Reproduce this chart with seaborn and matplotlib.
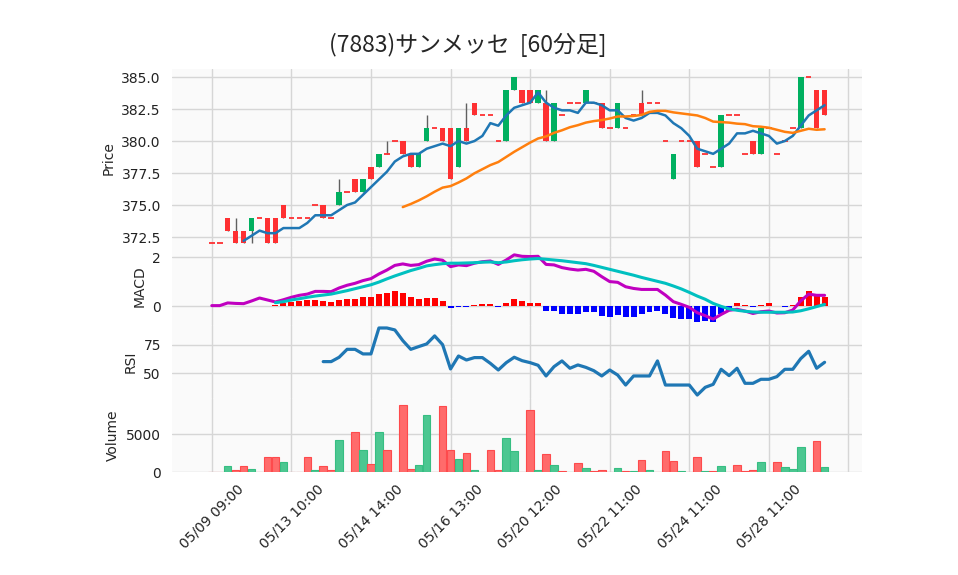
import numpy as np
import pandas as pd
import matplotlib
matplotlib.use('Agg')
import matplotlib.pyplot as plt
import seaborn as sns

############ data: 78 hourly bars (index 0..77) ############
opens = [372, 372, 374, 373, 373, 373, 374, 374, 374, 375,
         374, 374, 374, 375, 375, 374, 375, 376, 377, 376,
         378, 378, 379, 380, 380, 379, 378, 380, 381, 381,
         381, 378, 381, 383, 382, 382, 380, 380, 384, 384,
         384, 383, 383, 380, 382, 383, 383, 383, 383, 383,
         381, 381, 381, 382, 383, 383, 383, 380, 377, 380,
         380, 380, 379, 378, 378, 382, 382, 379, 380, 379,
         381, 379, 380, 381, 381, 385, 384, 384]
highs = [372, 372, 374, 374, 373, 374, 374, 374, 374, 375,
         374, 374, 374, 375, 375, 374, 377, 376, 377, 377,
         378, 379, 380, 380, 380, 379, 379, 382, 381, 381,
         381, 381, 383, 383, 382, 382, 380, 384, 385, 384,
         384, 384, 384, 383, 382, 383, 383, 384, 383, 383,
         381, 383, 381, 382, 384, 383, 383, 380, 379, 380,
         380, 380, 379, 378, 382, 382, 382, 379, 380, 381,
         381, 379, 380, 381, 385, 385, 384, 384]
lows = [372, 372, 373, 372, 372, 372, 374, 372, 372, 374,
        374, 374, 374, 375, 374, 374, 375, 376, 376, 376,
        377, 378, 379, 380, 379, 378, 378, 380, 381, 380,
        377, 378, 380, 382, 382, 382, 380, 380, 384, 383,
        383, 383, 380, 380, 382, 383, 383, 383, 383, 381,
        381, 381, 381, 382, 382, 383, 383, 380, 377, 380,
        380, 378, 379, 378, 378, 382, 382, 379, 379, 379,
        381, 379, 380, 381, 381, 385, 381, 382]
closes = [372, 372, 373, 372, 372, 374, 374, 372, 372, 374,
          374, 374, 374, 375, 374, 374, 376, 376, 376, 377,
          377, 379, 379, 380, 379, 378, 379, 381, 381, 380,
          377, 381, 380, 382, 382, 382, 380, 384, 385, 383,
          383, 384, 380, 383, 382, 383, 383, 384, 383, 381,
          381, 383, 381, 382, 382, 383, 383, 380, 379, 380,
          380, 378, 379, 378, 382, 382, 382, 379, 379, 381,
          381, 379, 380, 381, 385, 385, 381, 382]
volumes = [0, 0, 760, 300, 850, 350, 0, 2050, 2050, 1300,
           0, 0, 2050, 200, 760, 200, 4250, 0, 5300, 2900,
           1000, 5300, 2900, 0, 8900, 350, 900, 7600, 0, 8800,
           2900, 1700, 2500, 200, 0, 2900, 200, 4500, 2750, 0,
           8250, 200, 2450, 900, 100, 0, 1250, 500, 100, 200,
           0, 500, 100, 100, 1550, 200, 0, 2750, 1450, 100,
           0, 1950, 100, 100, 750, 0, 900, 100, 200, 1300,
           0, 1300, 600, 350, 3300, 0, 4100, 600]

# moving averages (5 and 25 bars) as drawn on the chart
ma5 = [np.nan] * 4 + [
    372.2, 372.6, 373.0, 372.8, 372.8, 373.2, 373.2, 373.2, 373.6, 374.2,
    374.2, 374.2, 374.6, 375.0, 375.2, 375.8, 376.4, 377.0, 377.6, 378.4,
    378.8, 379.0, 379.0, 379.4, 379.6, 379.8, 379.6, 380.0, 379.8, 380.0,
    380.4, 381.4, 381.2, 382.0, 382.6, 382.8, 383.0, 383.8, 383.0, 382.6,
    382.4, 382.4, 382.2, 383.0, 383.0, 382.8, 382.4, 382.4, 381.8, 381.6,
    381.8, 382.2, 382.2, 382.0, 381.4, 381.0, 380.4, 379.4, 379.2, 379.0,
    379.4, 379.8, 380.6, 380.6, 380.8, 380.6, 380.4, 379.8, 380.0, 380.4,
    381.2, 382.0, 382.4, 382.8]
ma25 = [np.nan] * 24 + [
    374.84, 375.08, 375.36, 375.68, 376.04, 376.36, 376.48, 376.76, 377.08, 377.48,
    377.80, 378.12, 378.36, 378.76, 379.16, 379.52, 379.88, 380.20, 380.36, 380.64,
    380.84, 381.08, 381.24, 381.44, 381.56, 381.64, 381.76, 381.92, 381.92, 381.96,
    382.04, 382.28, 382.36, 382.36, 382.24, 382.16, 382.08, 382.00, 381.80, 381.52,
    381.48, 381.44, 381.36, 381.32, 381.16, 381.12, 381.04, 380.88, 380.72, 380.64,
    380.80, 380.96, 380.88, 380.92]

macd = [0.03, 0.03, 0.14, 0.12, 0.11, 0.22, 0.34, 0.26, 0.18, 0.27,
        0.37, 0.45, 0.50, 0.61, 0.61, 0.60, 0.75, 0.86, 0.94, 1.05,
        1.13, 1.32, 1.48, 1.67, 1.73, 1.67, 1.70, 1.84, 1.93, 1.88,
        1.62, 1.69, 1.66, 1.76, 1.82, 1.85, 1.71, 1.89, 2.10, 2.04,
        2.03, 2.04, 1.71, 1.69, 1.58, 1.52, 1.48, 1.51, 1.43, 1.21,
        1.01, 0.98, 0.80, 0.73, 0.69, 0.69, 0.69, 0.46, 0.19, 0.08,
        -0.04, -0.26, -0.38, -0.52, -0.33, -0.16, -0.12, -0.19, -0.29, -0.22,
        -0.19, -0.27, -0.26, -0.15, 0.22, 0.50, 0.45, 0.45]
signal = [np.nan] * 8 + [
    0.15, 0.19, 0.26, 0.31, 0.37, 0.42, 0.46, 0.50, 0.57, 0.64,
    0.72, 0.80, 0.88, 0.99, 1.12, 1.24, 1.35, 1.46, 1.55, 1.65,
    1.70, 1.74, 1.76, 1.76, 1.77, 1.78, 1.80, 1.81, 1.78, 1.81,
    1.86, 1.90, 1.93, 1.95, 1.92, 1.89, 1.86, 1.82, 1.78, 1.74,
    1.67, 1.59, 1.51, 1.43, 1.35, 1.27, 1.18, 1.10, 1.02, 0.94,
    0.83, 0.71, 0.57, 0.42, 0.29, 0.12, 0.00, -0.10, -0.16, -0.20,
    -0.23, -0.24, -0.24, -0.24, -0.24, -0.23, -0.18, -0.10, -0.01, 0.08]
hist = [np.nan] * 8 + [
    0.05, 0.15, 0.19, 0.23, 0.26, 0.27, 0.22, 0.18, 0.26, 0.30,
    0.30, 0.38, 0.38, 0.50, 0.56, 0.63, 0.54, 0.38, 0.30, 0.34,
    0.34, 0.22, -0.08, -0.03, -0.04, 0.04, 0.10, 0.10, -0.03, 0.12,
    0.30, 0.22, 0.15, 0.15, -0.19, -0.19, -0.30, -0.30, -0.30, -0.22,
    -0.24, -0.39, -0.44, -0.34, -0.44, -0.44, -0.30, -0.23, -0.18, -0.30,
    -0.46, -0.52, -0.52, -0.63, -0.59, -0.63, -0.30, -0.15, 0.14, 0.04,
    -0.03, 0.04, 0.14, 0.01, -0.03, 0.04, 0.39, 0.63, 0.45, 0.38]
rsi = [np.nan] * 14 + [
    60.2, 60.2, 64.0, 70.9, 70.9, 66.9, 66.9, 89.5, 89.5, 87.8,
    78.5, 70.9, 73.3, 75.6, 82.6, 75.0, 53.8, 65.1, 61.6, 63.7,
    63.7, 58.7, 52.9, 59.3, 64.0, 61.0, 59.3, 57.0, 47.7, 55.8,
    60.8, 54.4, 57.3, 55.2, 52.3, 47.7, 52.9, 48.5, 39.8, 47.7,
    47.7, 47.7, 60.8, 39.8, 39.8, 39.8, 39.8, 31.1, 37.8, 40.4,
    53.5, 48.0, 54.4, 41.3, 41.3, 44.8, 44.8, 47.1, 53.5, 53.5,
    62.8, 69.2, 54.4, 59.6]

tick_pos = [0, 10, 20, 30, 40, 50, 60, 70, 80]
tick_labels = ['05/09 09:00', '05/13 10:00', '05/14 14:00', '05/16 13:00',
               '05/20 12:00', '05/22 11:00', '05/24 11:00', '05/28 11:00', '']
title = '(7883)サンメッセ  [60分足]'

df = pd.DataFrame({'open': opens, 'high': highs, 'low': lows, 'close': closes,
                   'volume': volumes, 'ma5': ma5, 'ma25': ma25, 'macd': macd,
                   'signal': signal, 'hist': hist, 'rsi': rsi})
df['idx'] = np.arange(len(df))

############ style ############
sns.set_theme(style='whitegrid')
plt.rcParams['font.family'] = ['DejaVu Sans']

UP, DOWN = '#00b060', '#fe3032'
BG, GRID = '#fafafa', '#d6d6d6'

fig = plt.figure(figsize=(9.58, 5.75), dpi=100)
L, W = 172 / 958, 690 / 958


def panel(top, bottom):
    ax = fig.add_axes([L, 1 - bottom / 575, W, (bottom - top) / 575])
    ax.set_facecolor(BG)
    ax.grid(True, color=GRID, lw=1)
    ax.set_axisbelow(True)
    for s in ax.spines.values():
        s.set_visible(False)
    ax.set_xlim(-5.0, 81.7)
    ax.set_xticks(tick_pos)
    ax.tick_params(axis='y', length=0, pad=8, labelsize=10, colors='#222222')
    ax.tick_params(axis='x', length=0, labelbottom=False)
    return ax


ax_p = panel(69, 247)
ax_m = panel(247, 325)
ax_r = panel(325, 398)
ax_v = panel(398, 472)

####### candles
up = df['close'] > df['open']
flat = df['close'] == df['open']
ax_p.vlines(df['idx'], df['low'], df['high'], color='#606060', lw=1, zorder=2)
body = df[~flat]
ax_p.bar(body['idx'], (body['close'] - body['open']), bottom=body['open'], width=0.7,
         color=np.where(up[~flat], UP, DOWN), lw=0, zorder=3)
doji = df[flat]
ax_p.hlines(doji['close'], doji['idx'] - 0.35, doji['idx'] + 0.35, color=DOWN, lw=1.3, zorder=3)

sns.lineplot(data=df, x='idx', y='ma5', ax=ax_p, color='#1f77b4', lw=1.8, zorder=4)
sns.lineplot(data=df, x='idx', y='ma25', ax=ax_p, color='#ff7f0e', lw=1.8, zorder=4)
ax_p.set_ylim(371.72, 385.63)
ax_p.set_yticks([372.5, 375.0, 377.5, 380.0, 382.5, 385.0])
ax_p.set_yticklabels(['372.5', '375.0', '377.5', '380.0', '382.5', '385.0'])
ax_p.set_ylabel('Price', fontsize=10)
ax_p.set_xlabel('')

####### MACD
hcol = np.where(df['hist'] >= 0, '#ff0000', '#0000ff')
ax_m.bar(df['idx'], df['hist'], width=0.75, color=hcol, lw=0, zorder=2)
sns.lineplot(data=df, x='idx', y='macd', ax=ax_m, color='#c000c0', lw=2.2, zorder=3)
sns.lineplot(data=df, x='idx', y='signal', ax=ax_m, color='#00c0c0', lw=2.2, zorder=3)
ax_m.set_ylim(-0.76, 2.42)
ax_m.set_yticks([0, 2])
ax_m.set_ylabel('MACD', fontsize=10)
ax_m.set_xlabel('')

####### RSI
sns.lineplot(data=df, x='idx', y='rsi', ax=ax_r, color='#1f77b4', lw=2.3, zorder=3)
ax_r.set_ylim(28.5, 92.1)
ax_r.set_yticks([50, 75])
ax_r.set_ylabel('RSI', fontsize=10)
ax_r.set_xlabel('')

####### Volume
prev = df['close'].shift(1)
vup = df['close'] > prev
ax_v.bar(df['idx'], df['volume'], width=0.95,
         color=np.where(vup, '#4cc791', '#ff6b6b'),
         edgecolor=np.where(vup, '#36be82', '#fe4a4c'), lw=0.8, zorder=2)
ax_v.set_ylim(0, 9850)
ax_v.set_yticks([0, 5000])
ax_v.set_ylabel('Volume', fontsize=10)
ax_v.set_xlabel('')
ax_v.tick_params(axis='x', length=4, width=1, colors='#222222', labelbottom=True,
                 labelsize=10, pad=3)
ax_v.set_xticklabels(tick_labels, rotation=45, ha='center')

fig.text(468 / 958, 1 - 45 / 575, title, ha='center', va='center', fontsize=16.5,
         family=['Noto Sans CJK JP', 'DejaVu Sans'])

fig.savefig('out.png', dpi=100, facecolor='white')
